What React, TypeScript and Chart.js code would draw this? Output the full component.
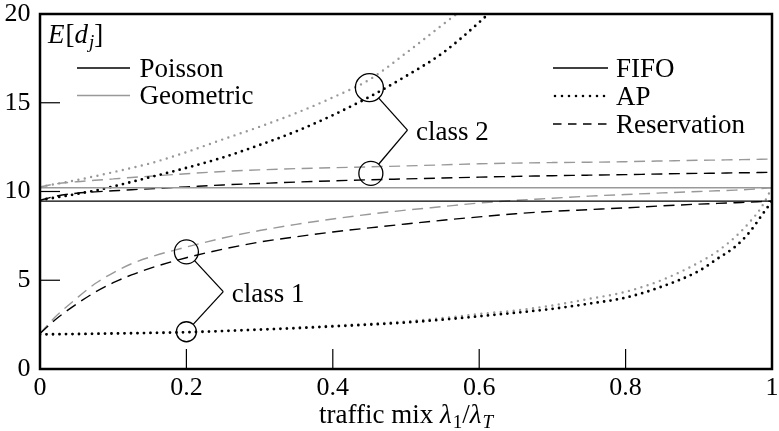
import React, { useEffect, useRef } from "react";
import { Chart, registerables } from "chart.js";

Chart.register(...registerables);

// ---------- data ----------
const xMix = [0, 0.02, 0.05, 0.075, 0.1, 0.125, 0.15, 0.2, 0.25, 0.3, 0.35, 0.4, 0.45, 0.5, 0.55, 0.6, 0.65, 0.7, 0.75, 0.8, 0.85, 0.9, 0.925, 0.95, 0.97, 0.985, 1];

const fifoX = [0, 1];
const fifoPoisson = [9.46, 9.46];
const fifoGeometric = [10.21, 10.21];

const c2ApPoisson = [9.52, 9.65, 9.86, 10.05, 10.28, 10.54, 10.8, 11.33, 11.92, 12.62, 13.39, 14.3, 15.33, 16.5, 17.8, 19.53, 21.5, null, null, null, null, null, null, null, null, null, null];
const c2ApGeometric = [10.27, 10.41, 10.64, 10.86, 11.09, 11.33, 11.58, 12.22, 12.94, 13.65, 14.42, 15.3, 16.3, 17.8, 19.4, 21.0, 23.0, null, null, null, null, null, null, null, null, null, null];
const c2ResPoisson = [9.5, 9.72, 9.9, 9.98, 10.04, 10.1, 10.15, 10.26, 10.37, 10.45, 10.53, 10.6, 10.66, 10.71, 10.76, 10.81, 10.85, 10.89, 10.92, 10.95, 10.99, 11.02, 11.03, 11.05, 11.06, 11.07, 11.08];
const c2ResGeometric = [10.25, 10.42, 10.55, 10.63, 10.71, 10.79, 10.86, 11.0, 11.13, 11.22, 11.29, 11.34, 11.39, 11.44, 11.5, 11.56, 11.6, 11.63, 11.65, 11.68, 11.72, 11.76, 11.77, 11.79, 11.8, 11.82, 11.83];
const c1ApPoisson = [1.95, 1.96, 1.97, 1.985, 2.0, 2.015, 2.03, 2.07, 2.14, 2.22, 2.3, 2.4, 2.5, 2.62, 2.78, 2.97, 3.17, 3.39, 3.68, 4.02, 4.65, 5.52, 6.2, 6.9, 7.74, 8.6, 9.46];
const c1ApGeometric = [1.95, 1.96, 1.97, 1.985, 2.0, 2.02, 2.04, 2.08, 2.15, 2.24, 2.33, 2.44, 2.55, 2.68, 2.87, 3.1, 3.3, 3.58, 3.95, 4.35, 5.02, 6.0, 6.62, 7.45, 8.3, 9.08, 10.21];
const c1ResPoisson = [2.0, 2.75, 3.66, 4.32, 4.86, 5.3, 5.67, 6.27, 6.75, 7.15, 7.45, 7.72, 7.95, 8.17, 8.38, 8.57, 8.75, 8.88, 8.98, 9.08, 9.19, 9.29, 9.33, 9.37, 9.4, 9.43, 9.46];
const c1ResGeometric = [2.0, 2.9, 3.98, 4.8, 5.42, 5.93, 6.3, 6.87, 7.38, 7.8, 8.15, 8.45, 8.72, 8.95, 9.15, 9.35, 9.5, 9.62, 9.74, 9.83, 9.92, 10.0, 10.04, 10.08, 10.12, 10.16, 10.21];

const xTickValues = [0, 0.2, 0.4, 0.6, 0.8, 1];
const xTickLabels = ["0", "0.2", "0.4", "0.6", "0.8", "1"];
const yTickValues = [0, 5, 10, 15, 20];
const yTickLabels = ["0", "5", "10", "15", "20"];
const xInnerTicks = [0.2, 0.4, 0.6, 0.8];
const yInnerTicks = [5, 10, 15];

// annotation anchors (data units)
const markX = [0.45, 0.452, 0.2, 0.2];
const markY = [15.85, 11.02, 6.6, 2.1];
const classLabels = ["class 2", "class 1"];
const bracketVertexX = [0.502, 0.2504];
const bracketVertexY = [13.46, 4.36];

const sourceLabels = ["Poisson", "Geometric"];
const policyLabels = ["FIFO", "AP", "Reservation"];

// ---------- styles ----------
const FONT = "'Liberation Serif', 'Times New Roman', serif";
const TXT = 27;
const BLACK = "#000000";
const GRAY = "#999999";
const markR = [14, 12, 12, 10];

const pts = (xs: number[], ys: (number | null)[]) => xs.map((x, i) => ({ x, y: ys[i] as any }));

const solid = (color: string, w: number) => ({ borderColor: color, borderWidth: w, borderDash: [] as number[] });
const dotted = (color: string, w: number) => ({ borderColor: color, borderWidth: w, borderDash: [0, 6.5], borderCapStyle: "round" as const });
const dashed = (color: string) => ({ borderColor: color, borderWidth: 1.4, borderDash: [11, 6.5], borderCapStyle: "butt" as const });

type Seg = { t: string; it?: boolean; sub?: boolean };

function drawRich(ctx: CanvasRenderingContext2D, segs: Seg[], x: number, y: number, size: number, align: "left" | "center") {
  const fontFor = (s: Seg) => `${s.it ? "italic " : ""}${s.sub ? Math.round(size * 0.7) : size}px ${FONT}`;
  let total = 0;
  for (const s of segs) {
    ctx.font = fontFor(s);
    total += ctx.measureText(s.t).width + (s.it && !s.sub ? 1 : 0);
  }
  let cx = align === "center" ? x - total / 2 : x;
  ctx.textAlign = "left";
  ctx.textBaseline = "alphabetic";
  for (const s of segs) {
    ctx.font = fontFor(s);
    ctx.fillText(s.t, cx, s.sub ? y + size * 0.2 : y);
    cx += ctx.measureText(s.t).width + (s.it && !s.sub ? 1 : 0);
  }
}

const decorPlugin = {
  id: "decor",
  afterDatasetsDraw(chart: any) {
    const { ctx, chartArea: a, scales } = chart;
    const xs = scales.x;
    const ys = scales.y;
    const line = (x1: number, y1: number, x2: number, y2: number) => {
      ctx.beginPath();
      ctx.moveTo(x1, y1);
      ctx.lineTo(x2, y2);
      ctx.stroke();
    };
    ctx.save();
    ctx.setLineDash([]);
    ctx.lineCap = "butt";
    // inner ticks
    ctx.strokeStyle = BLACK;
    ctx.lineWidth = 1.2;
    for (const v of yInnerTicks) {
      const p = ys.getPixelForValue(v);
      line(a.left, p, a.left + 20, p);
    }
    for (const v of xInnerTicks) {
      const p = xs.getPixelForValue(v);
      line(p, a.bottom, p, a.bottom - 20);
    }
    // frame
    ctx.lineWidth = 2.5;
    ctx.strokeRect(a.left, a.top, a.right - a.left, a.bottom - a.top);

    // annotations
    ctx.lineWidth = 1.3;
    ctx.strokeStyle = BLACK;
    const cx = markX.map((v) => xs.getPixelForValue(v));
    const cy = markY.map((v) => ys.getPixelForValue(v));
    for (let i = 0; i < markX.length; i++) {
      ctx.beginPath();
      ctx.arc(cx[i], cy[i], markR[i], 0, Math.PI * 2);
      ctx.stroke();
    }
    for (let b = 0; b < classLabels.length; b++) {
      const vx = xs.getPixelForValue(bracketVertexX[b]);
      const vy = ys.getPixelForValue(bracketVertexY[b]);
      for (const i of [2 * b, 2 * b + 1]) {
        const dx = vx - cx[i];
        const dy = vy - cy[i];
        const d = Math.hypot(dx, dy);
        line(cx[i] + (dx / d) * markR[i], cy[i] + (dy / d) * markR[i], vx, vy);
      }
      ctx.fillStyle = BLACK;
      ctx.font = `${TXT}px ${FONT}`;
      ctx.textAlign = "left";
      ctx.textBaseline = "alphabetic";
      ctx.fillText(classLabels[b], vx + 8.5, vy + 10);
    }

    // left legend (arrival process)
    ctx.font = `${TXT}px ${FONT}`;
    ctx.textAlign = "left";
    ctx.textBaseline = "alphabetic";
    const srcColors = [BLACK, GRAY];
    sourceLabels.forEach((lab, i) => {
      const base = a.top + 62.5 + i * 27.5;
      ctx.strokeStyle = srcColors[i];
      ctx.lineWidth = 1.4;
      ctx.setLineDash([]);
      line(a.left + 37, base - 8.5, a.left + 90, base - 8.5);
      ctx.fillStyle = BLACK;
      ctx.fillText(lab, a.left + 99.5, base);
    });
    // right legend (policy)
    policyLabels.forEach((lab, i) => {
      const base = a.top + 62.5 + i * 28;
      const ly = base - 8.5;
      ctx.strokeStyle = BLACK;
      if (i === 0) {
        ctx.lineWidth = 1.4;
        ctx.setLineDash([]);
        ctx.lineCap = "butt";
        line(a.right - 219, ly, a.right - 164, ly);
      } else if (i === 1) {
        ctx.lineWidth = 2.6;
        ctx.setLineDash([0, 7]);
        ctx.lineCap = "round";
        line(a.right - 217, ly, a.right - 164, ly);
      } else {
        ctx.lineWidth = 1.4;
        ctx.setLineDash([8.5, 6.5]);
        ctx.lineCap = "butt";
        line(a.right - 219, ly, a.right - 164, ly);
      }
      ctx.setLineDash([]);
      ctx.lineCap = "butt";
      ctx.fillStyle = BLACK;
      ctx.fillText(lab, a.right - 156, base);
    });

    // y label
    ctx.fillStyle = BLACK;
    drawRich(
      ctx,
      [{ t: "E", it: true }, { t: "[" }, { t: "d", it: true }, { t: "j", it: true, sub: true }, { t: "]" }],
      a.left + 8,
      a.top + 29,
      TXT,
      "left"
    );
    // x title
    drawRich(
      ctx,
      [{ t: "traffic mix " }, { t: "λ", it: true }, { t: "1", sub: true }, { t: "/" }, { t: "λ", it: true }, { t: "T", it: true, sub: true }],
      (a.left + a.right) / 2,
      a.bottom + 54,
      TXT,
      "center"
    );
    ctx.restore();
  },
};

export default function App() {
  const ref = useRef<HTMLCanvasElement | null>(null);
  useEffect(() => {
    if (!ref.current) return;
    const datasets: any[] = [
      { label: "FIFO Poisson", data: pts(fifoX, fifoPoisson), ...solid(BLACK, 1.3) },
      { label: "FIFO Geometric", data: pts(fifoX, fifoGeometric), ...solid(GRAY, 1.6) },
      { label: "AP Poisson class 2", data: pts(xMix, c2ApPoisson), ...dotted(BLACK, 2.8) },
      { label: "AP Geometric class 2", data: pts(xMix, c2ApGeometric), ...dotted(GRAY, 2.4) },
      { label: "Reservation Poisson class 2", data: pts(xMix, c2ResPoisson), ...dashed(BLACK) },
      { label: "Reservation Geometric class 2", data: pts(xMix, c2ResGeometric), ...dashed(GRAY) },
      { label: "AP Poisson class 1", data: pts(xMix, c1ApPoisson), ...dotted(BLACK, 2.8) },
      { label: "AP Geometric class 1", data: pts(xMix, c1ApGeometric), ...dotted(GRAY, 2.4) },
      { label: "Reservation Poisson class 1", data: pts(xMix, c1ResPoisson), ...dashed(BLACK) },
      { label: "Reservation Geometric class 1", data: pts(xMix, c1ResGeometric), ...dashed(GRAY) },
    ].map((d) => ({ ...d, pointRadius: 0, fill: false, cubicInterpolationMode: "monotone", spanGaps: false }));

    const zeroPad = (s: any) => {
      s.paddingLeft = 0;
      s.paddingRight = 0;
      s.paddingTop = 0;
      s.paddingBottom = 0;
    };

    const chart = new Chart(ref.current, {
      type: "line",
      data: { datasets },
      options: {
        animation: false,
        responsive: false,
        devicePixelRatio: 1,
        layout: { autoPadding: false, padding: { top: 14, right: 7, left: 0, bottom: 0 } },
        plugins: { legend: { display: false }, tooltip: { enabled: false }, title: { display: false } },
        scales: {
          x: {
            type: "linear",
            min: 0,
            max: 1,
            grid: { display: false, drawTicks: false },
            border: { display: false },
            afterBuildTicks: (s: any) => {
              s.ticks = xTickValues.map((v) => ({ value: v }));
            },
            ticks: {
              color: BLACK,
              padding: 6,
              maxRotation: 0,
              autoSkip: false,
              font: { family: FONT, size: 26, lineHeight: 1 },
              callback: (v: any) => xTickLabels[xTickValues.indexOf(Math.round(Number(v) * 10) / 10)] ?? "",
            },
            afterFit: (s: any) => {
              s.height = 62;
              zeroPad(s);
            },
          },
          y: {
            type: "linear",
            min: 0,
            max: 20,
            grid: { display: false, drawTicks: false },
            border: { display: false },
            afterBuildTicks: (s: any) => {
              s.ticks = yTickValues.map((v) => ({ value: v }));
            },
            ticks: {
              color: BLACK,
              padding: 9.5,
              autoSkip: false,
              font: { family: FONT, size: 26, lineHeight: 1 },
              callback: (v: any) => yTickLabels[yTickValues.indexOf(Number(v))] ?? "",
            },
            afterFit: (s: any) => {
              s.width = 40;
              zeroPad(s);
            },
          },
        },
      } as any,
      plugins: [decorPlugin],
    });
    return () => chart.destroy();
  }, []);

  return (
    <div style={{ position: "fixed", left: 0, top: 0, width: 779, height: 431, background: "#fff" }}>
      <canvas ref={ref} width={779} height={431} style={{ display: "block" }} />
    </div>
  );
}
